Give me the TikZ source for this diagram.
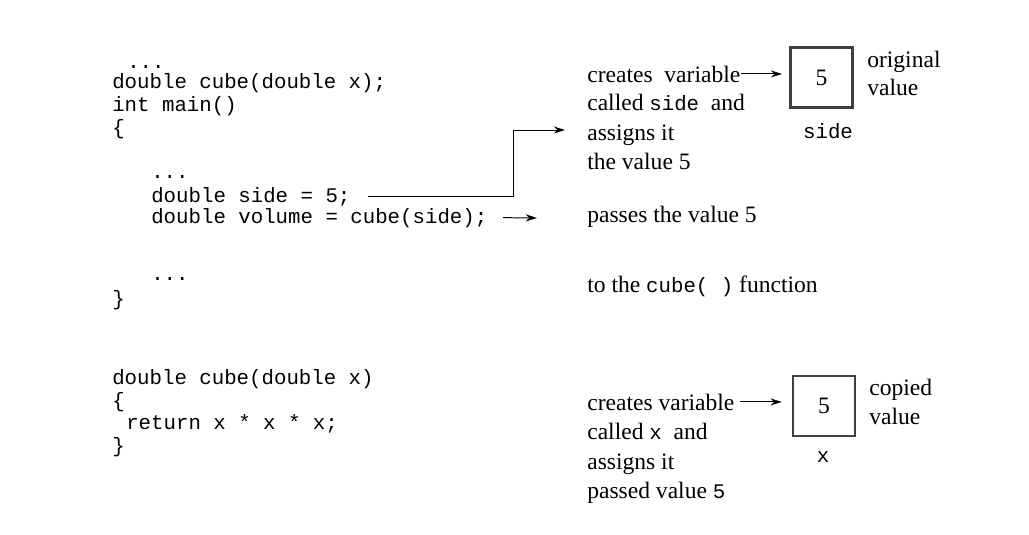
\documentclass[tikz,border=0pt]{standalone}
\usepackage{fontspec}
\setmainfont{Liberation Serif}
\setmonofont{Liberation Mono}
\usepackage{tikz}
\usetikzlibrary{arrows.meta, positioning}
\newcommand{\codefont}{\fontsize{14.75}{17}\ttfamily}
\newcommand{\notefont}{\fontsize{16.75}{20}\rmfamily}
\tikzset{
	codeline/.style={anchor=base west, inner sep=0pt, font=\codefont},
	noteline/.style={anchor=base west, inner sep=0pt, font=\notefont},
	varbox/.style={draw=black!75, line width=2pt, minimum width=1.55cm, minimum height=1.5cm, font=\notefont},
	varname/.style={inner sep=0pt, font=\codefont},
	callarr/.style={-{Stealth[length=8pt, width=5pt]}, line width=0.7pt},
}

\begin{document}
\begin{tikzpicture}[x=0.025cm, y=-0.025cm]
	\useasboundingbox (0,0) rectangle (1029,534);
	% calling code
	\node[codeline] (dotsA) at (127,68) {...};
	\node[codeline] (protoA) at (112,88) {double cube(double x);};
	\node[codeline] (mainA) at (112,111) {int main()};
	\node[codeline] (openA) at (112,134) {\{};
	\node[codeline] (dotsB) at (151,178) {...};
	\node[codeline] (sideA) at (151,202) {double side = 5;};
	\node[codeline] (volA) at (151,223) {double volume = cube(side);};
	\node[codeline] (dotsC) at (151,280) {...};
	\node[codeline] (closeA) at (112,305) {\}};
	% function definition
	\node[codeline] (defB) at (112,384) {double cube(double x)};
	\node[codeline] (openB) at (112,407) {\{};
	\node[codeline] (retB) at (126,429) {return x * x * x;};
	\node[codeline] (closeB) at (112,452) {\}};
	% notes on the caller
	\node[noteline] (creA) at (587,82) {creates~ variable};
	\node[noteline] (calledA) at (587,110) {called {\codefont side}~ and};
	\node[noteline] (assignA) at (587,140) {assigns it};
	\node[noteline] (theValA) at (587,169) {the value 5};
	\node[noteline] (passA) at (587,222) {passes the value 5};
	\node[noteline] (toCubeA) at (587,292) {to the {\codefont cube(~)} function};
	\node[varbox] (boxSide) at (821.5,77.5) {5};
	\node[varname] (lblSide) at (828,131) {side};
	\node[noteline] (origT) at (867,67) {original};
	\node[noteline] (origV) at (867,95) {value};
	% notes on the function
	\node[noteline] (creB) at (587,410) {creates variable};
	\node[noteline] (calledB) at (587,439) {called {\codefont x}~ and};
	\node[noteline] (assignB) at (587,469) {assigns it};
	\node[noteline] (passedB) at (587,498) {passed value {\codefont 5}};
	\node[varbox] (boxX) at (824,406) {5};
	\node[varname] (lblX) at (823,457) {x};
	\node[noteline] (copyT) at (869,395) {copied};
	\node[noteline] (copyV) at (869,424) {value};
	% arrows
	\coordinate (turn) at (513,130);
	\coordinate (tipA) at (565,130);
	\coordinate (tipB) at (537,218);
	\draw[callarr] ([xshift=12pt]sideA.east) -| (turn) -- (tipA);
	\draw[callarr] ([xshift=11pt]volA.east) -- (tipB);
	\draw[callarr, shorten >=5pt] (creA.east) -- (creA.east -| boxSide.west);
	\draw[callarr, shorten >=7pt] ([xshift=4pt]creB.east) -- (creB.east -| boxX.west);
\end{tikzpicture}
\end{document}
